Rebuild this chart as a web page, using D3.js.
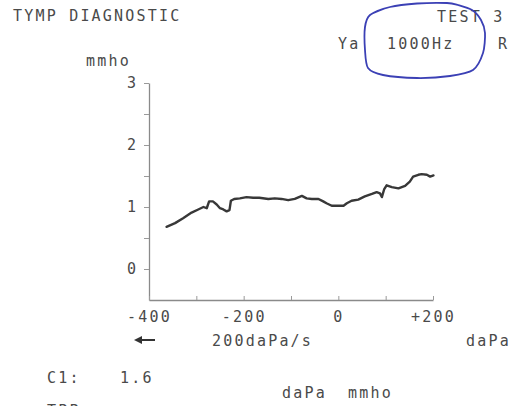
<!DOCTYPE html>
<html>
<head>
<meta charset="utf-8">
<script src="https://cdn.jsdelivr.net/npm/d3@7"></script>
<style>
  html, body { margin: 0; padding: 0; background: #fff; }
  svg { display: block; }
  text { font-family: "DejaVu Sans Mono", "Liberation Mono", monospace; fill: #4a4a4a; }
</style>
</head>
<body>
<svg id="chart" width="511" height="406"></svg>
<script>
// Tympanogram trace: pressure (daPa) and admittance (mmho)
const pressure = [-363, -345, -328, -310, -296, -285, -278, -273, -265, -257, -250, -243, -236, -230, -227,
  -220, -208, -194, -180, -167, -148, -134, -120, -106, -92, -77, -67, -56, -42, -32, -25, -14, 0, 11, 18, 28,
  42, 56, 71, 81, 88, 92, 97, 102, 113, 127, 141, 151, 158, 169, 176, 187, 194, 201];
const admittance = [0.68, 0.74, 0.82, 0.91, 0.96, 1.00, 0.98, 1.09, 1.09, 1.04, 0.98, 0.96, 0.93, 0.95, 1.10,
  1.13, 1.14, 1.16, 1.15, 1.15, 1.13, 1.14, 1.13, 1.11, 1.13, 1.18, 1.14, 1.13, 1.13, 1.09, 1.06, 1.02, 1.02, 1.02, 1.06, 1.10,
  1.12, 1.17, 1.21, 1.24, 1.22, 1.16, 1.29, 1.35, 1.32, 1.30, 1.34, 1.41, 1.49, 1.52, 1.53, 1.52, 1.49, 1.51];

const xTicks = [-400, -300, -200, -100, 0, 100, 200];
const xLabelled = [-400, -200, 0, 200];
const yTicks = [-0.5, 0, 0.5, 1, 1.5, 2, 2.5, 3];
const yLabelled = [0, 1, 2, 3];

const svg = d3.select("#chart");
const x = d3.scaleLinear().domain([-400, 200]).range([149, 433]);
const y = d3.scaleLinear().domain([-0.5, 3]).range([300, 83]);

const fontSize = 15;
const spacing = "2.2px";
function txt(s, px, py, anchor) {
  return svg.append("text").attr("x", px).attr("y", py)
    .attr("font-size", fontSize).attr("letter-spacing", spacing)
    .attr("text-anchor", anchor || "start").text(s);
}

// header
txt("TYMP DIAGNOSTIC", 13, 21);
txt("TEST 3", 437, 22);
txt("Ya", 338, 49);
txt("1000Hz", 387, 49);
txt("R", 498, 49);
txt("mmho", 86, 66);

// y axis
const yAxis = d3.axisLeft(y).tickValues(yTicks).tickSizeInner(5).tickSizeOuter(0).tickPadding(8)
  .tickFormat(d => yLabelled.includes(d) ? d3.format("d")(d) : "");
const gy = svg.append("g").attr("transform", `translate(${x(-400)},0)`).call(yAxis);
gy.select(".domain").attr("stroke", "#8a8a8a").attr("stroke-width", 1.3);
gy.selectAll(".tick line").attr("stroke", "#9a9a9a");
gy.selectAll(".tick").filter(d => d === -0.5).select("line").remove();
gy.selectAll(".tick text").attr("font-size", fontSize).attr("fill", "#4a4a4a")
  .attr("font-family", "DejaVu Sans Mono, monospace");

// x axis, ticks pointing up into the plot
const xAxis = d3.axisBottom(x).tickValues(xTicks).tickSizeInner(-4).tickSizeOuter(0).tickPadding(11)
  .tickFormat(d => xLabelled.includes(d) ? (d > 0 ? "+" + d : String(d)) : "");
const gx = svg.append("g").attr("transform", `translate(0,${y(-0.5)})`).call(xAxis);
gx.select(".domain").attr("stroke", "#8a8a8a").attr("stroke-width", 1.3);
gx.selectAll(".tick line").attr("stroke", "#9a9a9a");
gx.selectAll(".tick text").attr("font-size", fontSize).attr("fill", "#4a4a4a")
  .attr("letter-spacing", spacing).attr("font-family", "DejaVu Sans Mono, monospace");

// trace
const line = d3.line().x((d, i) => x(pressure[i])).y((d, i) => y(admittance[i]));
svg.append("path").datum(admittance).attr("d", line)
  .attr("fill", "none").attr("stroke", "#383838").attr("stroke-width", 2.4)
  .attr("stroke-linejoin", "round").attr("stroke-linecap", "round");

// sweep direction arrow
svg.append("line").attr("x1", 155).attr("y1", 340).attr("x2", 138).attr("y2", 340)
  .attr("stroke", "#333").attr("stroke-width", 2);
svg.append("path").attr("d", "M134,340 L142,336 L142,344 Z").attr("fill", "#333");

txt("200daPa/s", 212, 346);
txt("daPa", 466, 346);
txt("C1:", 47, 383);
txt("1.6", 120, 383);
txt("daPa", 282, 398);
txt("mmho", 348, 398);
// next printout line, running off the bottom edge of the slip
txt("TPP: -", 47, 416);

// hand-drawn ring around the probe frequency
const ring = [[447, 3], [417, 3.5], [390, 7], [370, 15], [365, 27], [365, 50], [368, 68], [383, 75],
  [417, 78], [450, 76], [473, 70], [483, 53], [485, 33], [481, 20], [472, 10], [458, 5]];
svg.append("path").attr("d", d3.line().curve(d3.curveCardinalClosed.tension(0.2))(ring))
  .attr("fill", "none").attr("stroke", "#3b40b5").attr("stroke-width", 1.8);
</script>
</body>
</html>
